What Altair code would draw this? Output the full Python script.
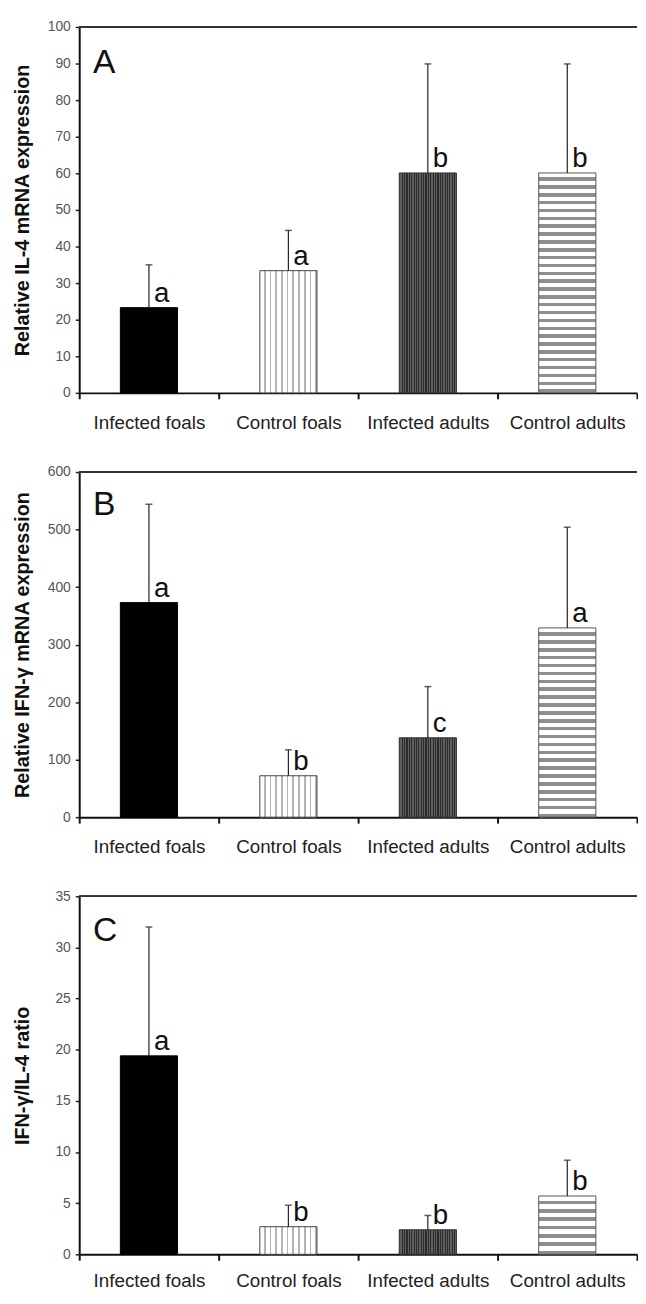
import altair as alt
import pandas as pd

GROUPS = ["Infected foals", "Control foals", "Infected adults", "Control adults"]

IL4 = [23.3, 33.4, 60.1, 60.1]
IL4_ERR = [35.0, 44.4, 89.9, 89.9]
IL4_SIG = ["a", "a", "b", "b"]

IFN = [373, 72, 138, 329]
IFN_ERR = [544, 117, 227, 504]
IFN_SIG = ["a", "b", "c", "a"]

RATIO = [19.4, 2.7, 2.4, 5.7]
RATIO_ERR = [32.0, 4.8, 3.8, 9.2]
RATIO_SIG = ["a", "b", "b", "b"]

FONT = "Liberation Sans"
W = 564


def stripes(n, c1, c2, frac, vertical):
    stops = []
    for i in range(n):
        a = i / n
        b = (i + frac) / n
        c = (i + 1) / n
        stops += [(a, c1), (b, c1), (b, c2), (c, c2)]
    return alt.LinearGradient(
        gradient="linear",
        stops=[alt.GradientStop(offset=o, color=c) for o, c in stops],
        x1=0, y1=0,
        x2=0 if vertical else 1,
        y2=1 if vertical else 0,
    )


def panel(values, errs, sigs, ytitle, ymax, step, height, letter, letter_y, ca_stripes, lab_pad):
    df = pd.DataFrame({"group": GROUPS, "value": values, "err": errs, "sig": sigs})
    x = alt.X(
        "group:N", sort=GROUPS,
        scale=alt.Scale(paddingInner=0, paddingOuter=0),
        axis=alt.Axis(
            title=None, labelAngle=0, labelFontSize=19, labelFont=FONT, labelColor="#222",
            tickBand="extent", tickSize=6, tickWidth=2, tickColor="#111",
            domainColor="#111", domainWidth=2, labelPadding=lab_pad,
        ),
    )
    yaxis = alt.Axis(
        values=list(range(0, ymax + 1, step)), title=ytitle, labelOverlap=False,
        titleFontSize=20, titleFontWeight="bold", titleFont=FONT, titleColor="#111",
        titleX=-57, titleBaseline="middle",
        labelFontSize=14, labelFont=FONT, labelColor="#555", labelPadding=5,
        tickSize=4, tickWidth=1.5, tickColor="#222",
        domainColor="#111", domainWidth=2, grid=False,
    )
    yscale = alt.Scale(domain=[0, ymax], nice=False)

    def mky(field):
        return alt.Y(field, type="quantitative", scale=yscale, axis=yaxis)

    y = mky("value")
    fills = {
        "Infected foals": ("#000000", "#000000"),
        "Control foals": (stripes(10, "#ffffff", "#b4b4b4", 0.7, False), "#444444"),
        "Infected adults": (stripes(24, "#2c2c2c", "#5e5e5e", 0.5, False), "#333333"),
        "Control adults": (stripes(ca_stripes, "#ffffff", "#8e8e8e", 0.55, True), "#555555"),
    }
    bw = alt.RelativeBandSize(0.41)
    base = alt.Chart(df)
    layers = []
    for g in GROUPS:
        f, s = fills[g]
        layers.append(
            base.transform_filter(alt.datum.group == g)
            .mark_bar(fill=f, stroke=s, strokeWidth=1, width=bw)
            .encode(x=x, y=y)
        )
    rule = base.mark_rule(color="#222", strokeWidth=1.2).encode(x=x, y=y, y2="err:Q")
    cap = base.mark_tick(color="#222", thickness=1.5, size=7).encode(x=x, y=mky("err"))
    text = base.mark_text(
        align="left", baseline="alphabetic", dx=5, dy=-6, fontSize=28, font=FONT, color="#111"
    ).encode(x=x, y=y, text="sig:N")
    top = base.mark_rule(color="#333", strokeWidth=1.5).encode(
        x=alt.value(0), x2=alt.value(W), y=alt.value(0)
    )
    lab = alt.Chart(pd.DataFrame({"t": [letter]})).mark_text(
        align="left", baseline="alphabetic", fontSize=34, font=FONT, color="#111"
    ).encode(x=alt.value(14), y=alt.value(letter_y), text="t:N")
    return alt.layer(*layers, rule, cap, text, top, lab).properties(width=W, height=height)


pA = panel(IL4, IL4_ERR, IL4_SIG, "Relative IL-4 mRNA expression", 100, 10, 370, "A", 47, 28, 15)
pB = panel(IFN, IFN_ERR, IFN_SIG, "Relative IFN-γ mRNA expression", 600, 100, 349, "B", 43, 24, 15)
pC = panel(RATIO, RATIO_ERR, RATIO_SIG, "IFN-γ/IL-4 ratio", 35, 5, 362, "C", 45, 7, 12)

chart = (
    alt.vconcat(pA, pB, pC, spacing=33)
    .properties(padding={"top": 5, "left": 5, "right": 0, "bottom": 0})
    .configure_view(stroke=None)
)

chart.save("out.html", embed_options={"renderer": "svg", "actions": False})
